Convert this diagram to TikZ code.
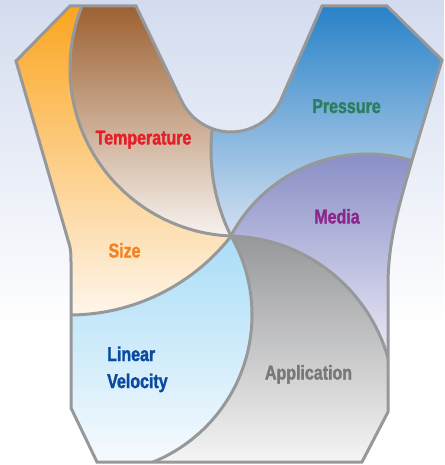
\documentclass[tikz,border=0pt]{standalone}
\usepackage{fontspec}
\newfontfamily\labfont{Liberation Sans}[FakeStretch=0.8, FakeBold=1.5]
\definecolor{bgtop}{HTML}{D3DCEF}
\definecolor{edge}{HTML}{97989A}
\definecolor{sizetop}{HTML}{FBA520}
\definecolor{sizebot}{HTML}{FEF6EC}
\definecolor{temptop}{HTML}{9C6132}
\definecolor{tempbot}{HTML}{F8F4F0}
\definecolor{prestop}{HTML}{2882C8}
\definecolor{presbot}{HTML}{D6E1F2}
\definecolor{medtop}{HTML}{8A8FC6}
\definecolor{medbot}{HTML}{ECEBF7}
\definecolor{lvtop}{HTML}{A9DDF7}
\definecolor{lvbot}{HTML}{F6FAFE}
\definecolor{apptop}{HTML}{97989A}
\definecolor{appbot}{HTML}{F5F5F5}
\definecolor{tSize}{HTML}{F58220}
\definecolor{tTemp}{HTML}{E51E28}
\definecolor{tPres}{HTML}{2D7D5F}
\definecolor{tMed}{HTML}{8C288C}
\definecolor{tLV}{HTML}{0A4BA0}
\definecolor{tApp}{HTML}{787878}
% outer outline (pixel frame, y down)
\def\outerpath{(70,6) -- (136,6) -- (180.9,99.6) arc[start angle=155.7, end angle=19.4, radius=55] -- (322,6) -- (387,6) -- (442,60) -- (413,157) .. controls (400,202) and (388,240) .. (388,285) -- (388,412) -- (362,462) -- (97,462) -- (71,408) -- (71,262) .. controls (71,250) and (70,246) .. (68,240) -- (16,61) -- cycle}
% boundary circles
\def\Cone{(237.8,68.35) circle[radius=167.8]}
\def\Ctwo{(69,109) circle[radius=206]}
\def\Cthree{(93.2,314.9) circle[radius=158.8]}
\def\Cfour{(226.8,403.4) circle[radius=167.4]}
\def\Cfive{(367,308) circle[radius=154]}
\def\Csix{(405.9,150) circle[radius=194.9]}
% complements of the circles (big box, circle traced the other way)
\def\bigbox{(-600,-600) -- (1100,-600) -- (1100,1100) -- (-600,1100) -- cycle}
\def\notCone{\bigbox (405.6,68.35) arc[start angle=0, end angle=-360, radius=167.8]}
\def\notCtwo{\bigbox (275,109) arc[start angle=0, end angle=-360, radius=206]}
\def\notCthree{\bigbox (252,314.9) arc[start angle=0, end angle=-360, radius=158.8]}
\def\notCfour{\bigbox (394.2,403.4) arc[start angle=0, end angle=-360, radius=167.4]}
\def\notCfive{\bigbox (521,308) arc[start angle=0, end angle=-360, radius=154]}
\def\notCsix{\bigbox (600.8,150) arc[start angle=0, end angle=-360, radius=194.9]}
\tikzset{
  rim/.style={draw=edge, line width=3pt},
  lab/.style={font=\labfont\bfseries\fontsize{20}{20}\selectfont, anchor=base, inner sep=0pt},
}
\begin{document}
\begin{tikzpicture}[x=1pt, y=-1pt]
\useasboundingbox (0,0) rectangle (444,465);
% background
\fill[white] (0,0) rectangle (444,465);
\shade[top color=bgtop, bottom color=white] (0,0) rectangle (444,330);
% regions
\begin{scope}
  \clip \outerpath;
  % Size
  \begin{scope}
    \clip \Ctwo; \clip \notCone;
    \shade[top color=sizetop, bottom color=sizebot] (0,6) rectangle (444,316);
  \end{scope}
  % Temperature
  \begin{scope}
    \clip \Cone; \clip \notCsix;
    \shade[top color=temptop, bottom color=tempbot] (0,6) rectangle (444,238);
  \end{scope}
  % Pressure
  \begin{scope}
    \clip \Csix; \clip \notCfive;
    \shade[top color=prestop, bottom color=presbot] (0,6) rectangle (444,238);
  \end{scope}
  % Media
  \begin{scope}
    \clip \Cfive; \clip \notCfour;
    \shade[top color=medtop, bottom color=medbot] (0,155) rectangle (444,360);
  \end{scope}
  % Application
  \begin{scope}
    \clip \Cfour; \clip \notCthree;
    \shade[top color=apptop, bottom color=appbot] (0,236) rectangle (444,462);
  \end{scope}
  % Linear Velocity
  \begin{scope}
    \clip \Cthree; \clip \notCtwo;
    \shade[top color=lvtop, bottom color=lvbot] (0,236) rectangle (444,462);
  \end{scope}
  % inner boundaries
  \begin{scope}\clip \Ctwo;   \draw[rim] \Cone;   \end{scope}
  \begin{scope}\clip \Cthree; \draw[rim] \Ctwo;   \end{scope}
  \begin{scope}\clip \Cfour;  \draw[rim] \Cthree; \end{scope}
  \begin{scope}\clip \Cfive;  \draw[rim] \Cfour;  \end{scope}
  \begin{scope}\clip \Csix;   \draw[rim] \Cfive;  \end{scope}
  \begin{scope}\clip \Cone;   \draw[rim] \Csix;   \end{scope}
\end{scope}
% outline
\draw[rim] \outerpath;
% labels
\node[lab, text=tTemp] (temp) at (143.5,144.5) {Temperature};
\node[lab, text=tPres] (pres) at (346.5,113) {Pressure};
\node[lab, text=tMed]  (med)  at (337,223.5) {Media};
\node[lab, text=tSize] (size) at (124.5,257.5) {Size};
\node[lab, text=tLV, anchor=base west] (lin) at (107,361) {Linear};
\node[lab, text=tLV, anchor=base west] (vel) at (107,388) {Velocity};
\node[lab, text=tApp]  (app)  at (308.5,379.5) {Application};
\end{tikzpicture}
\end{document}
